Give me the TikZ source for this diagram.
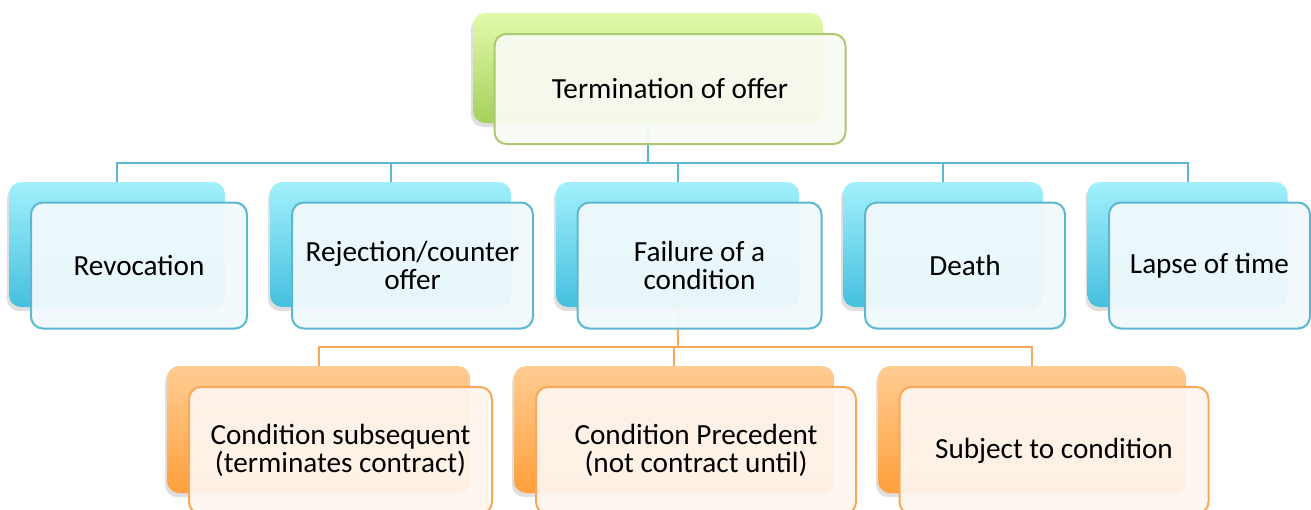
\documentclass[tikz,border=0pt]{standalone}
\usepackage{fontspec}
\setmainfont{Carlito}
\usepackage{xcolor}
\usepackage{tikz}
\usetikzlibrary{positioning,shadows}
\definecolor{greentop}{RGB}{226,250,170}
\definecolor{greenbot}{RGB}{166,208,92}
\definecolor{greenedge}{RGB}{172,200,112}
\definecolor{greenface}{RGB}{248,251,242}
\definecolor{bluetop}{RGB}{162,240,252}
\definecolor{bluebot}{RGB}{70,192,222}
\definecolor{blueedge}{RGB}{92,184,208}
\definecolor{blueface}{RGB}{241,249,252}
\definecolor{orangetop}{RGB}{255,204,146}
\definecolor{orangebot}{RGB}{255,160,60}
\definecolor{orangeedge}{RGB}{248,168,88}
\definecolor{orangeface}{RGB}{254,245,238}

\begin{document}
\begin{tikzpicture}[x=0.5pt, y=-0.5pt, every node/.style={font=\fontsize{14.6}{14}\selectfont, align=center}]
      \tikzstyle{backbox}=[rounded corners=6pt, minimum height=55pt, drop shadow={shadow xshift=-1pt, shadow yshift=-2pt, opacity=0.25}]
      \tikzstyle{frontbox}=[rounded corners=6pt, minimum height=55pt, line width=1pt, fill opacity=0.95, text opacity=1, xshift=11pt, yshift=-10.5pt]
      \tikzstyle{greenback}=[backbox, top color=greentop, bottom color=greenbot]
      \tikzstyle{blueback}=[backbox, top color=bluetop, bottom color=bluebot, minimum height=62.5pt]
      \tikzstyle{orangeback}=[backbox, top color=orangetop, bottom color=orangebot, minimum height=63.5pt]
      \tikzstyle{greenfront}=[frontbox, draw=greenedge, fill=greenface]
      \tikzstyle{bluefront}=[frontbox, draw=blueedge, fill=blueface, minimum height=63pt]
      \tikzstyle{orangefront}=[frontbox, draw=orangeedge, fill=orangeface, minimum height=63.5pt]
      \tikzstyle{bluelink}=[draw=blueedge, line width=1pt]
      \tikzstyle{orangelink}=[draw=orangeedge, line width=1pt]
      \useasboundingbox (0,0) rectangle (1311,509);
      \node[greenback, minimum width=175pt] (termb) at (648,68) {};
      \node[blueback, minimum width=108pt] (revb) at (117,244.5) {};
      \node[blueback, minimum width=120.5pt] (rejb) at (390.5,244.5) {};
      \node[blueback, minimum width=121.5pt] (failb) at (677.5,244.5) {};
      \node[blueback, minimum width=100pt] (deathb) at (943,244.5) {};
      \node[blueback, minimum width=100pt] (lapseb) at (1187.5,244.5) {};
      \node[orangeback, minimum width=151.5pt] (subsb) at (318.5,429.5) {};
      \node[orangeback, minimum width=160pt] (precb) at (674,429.5) {};
      \node[orangeback, minimum width=154pt] (subjb) at (1032,429.5) {};
      \draw[bluelink] (termb.south) -- ++(0,40) -| (revb.north);
      \draw[bluelink] (termb.south) -- ++(0,40) -| (rejb.north);
      \draw[bluelink] (termb.south) -- ++(0,40) -| (failb.north);
      \draw[bluelink] (termb.south) -- ++(0,40) -| (deathb.north);
      \draw[bluelink] (termb.south) -- ++(0,40) -| (lapseb.north);
      \draw[orangelink] (failb.south) -- ++(0,40) -| (subsb.north);
      \draw[orangelink] (failb.south) -- ++(0,40) -| (precb.north);
      \draw[orangelink] (failb.south) -- ++(0,40) -| (subjb.north);
      \node[greenfront, minimum width=175.5pt] (term) at (termb) {Termination of offer};
      \node[bluefront, minimum width=108pt] (rev) at (revb) {Revocation};
      \node[bluefront, minimum width=120.5pt] (rej) at (rejb) {Rejection/counter\\offer};
      \node[bluefront, minimum width=122pt] (fail) at (failb) {Failure of a\\condition};
      \node[bluefront, minimum width=100pt] (death) at (deathb) {Death};
      \node[bluefront, minimum width=100.5pt] (lapse) at (lapseb) {Lapse of time};
      \node[orangefront, minimum width=151.5pt] (subs) at (subsb) {Condition subsequent\\(terminates contract)};
      \node[orangefront, minimum width=160pt] (prec) at (precb) {Condition Precedent\\(not contract until)};
      \node[orangefront, minimum width=154.5pt] (subj) at (subjb) {Subject to condition};
    \end{tikzpicture}
\end{document}
